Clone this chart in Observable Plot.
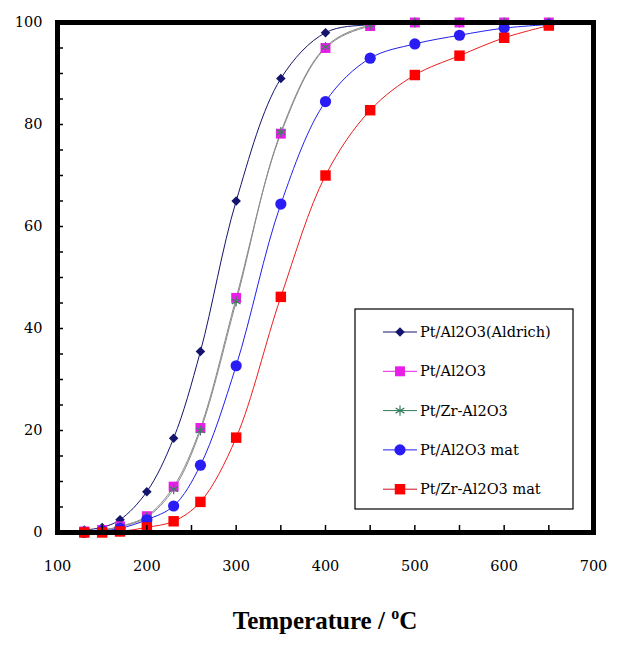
<!DOCTYPE html>
<html>
<head>
<meta charset="utf-8">
<script src="https://cdn.jsdelivr.net/npm/d3@7"></script>
<script src="https://cdn.jsdelivr.net/npm/@observablehq/plot@0.6"></script>
<style>
  html, body { margin: 0; padding: 0; background: #fff; }
  #chart { width: 621px; height: 659px; }
</style>
</head>
<body>
<div id="chart"></div>
<script>
// ---- data ----
const temperatures = [130, 150, 170, 200, 230, 260, 300, 350, 400, 450, 500, 550, 600, 650];
const seriesNames = ["Pt/Al2O3(Aldrich)", "Pt/Al2O3", "Pt/Zr-Al2O3", "Pt/Al2O3 mat", "Pt/Zr-Al2O3 mat"];
const ptAl2O3Aldrich = [0.5, 1, 2.5, 8, 18.5, 35.5, 65, 89, 98, 99.6, 100, 100, 100, 100];
const ptAl2O3 = [0.2, 0.5, 1.2, 3.2, 9, 20.5, 46, 78.2, 95, 99.3, 100, 100, 100, 100];
const ptZrAl2O3 = [0.2, 0.5, 1.1, 3, 8.5, 20, 45.3, 78.5, 95.2, 99.5, 100, 100, 100, 100];
const ptAl2O3Mat = [0, 0.3, 0.8, 2.5, 5.2, 13.2, 32.7, 64.4, 84.5, 93, 95.8, 97.5, 98.9, 99.6];
const ptZrAl2O3Mat = [0, 0, 0.2, 1, 2.2, 6, 18.6, 46.2, 70, 82.8, 89.7, 93.5, 97, 99.4];
const xTickValues = [100, 150, 200, 250, 300, 350, 400, 450, 500, 550, 600, 650, 700];
const yTickValues = [0, 5, 10, 15, 20, 25, 30, 35, 40, 45, 50, 55, 60, 65, 70, 75, 80, 85, 90, 95, 100];
const axisTitle = "Temperature / ";
const axisUnitSup = "o";
const axisUnit = "C";

// ---- styles ----
const FONT = "'DejaVu Serif', serif";
const TITLE_FONT = "'Liberation Serif', serif";
const styles = [
  {line: "#14146e", legendLine: "#14146e", marker: "diamond2", fill: "#14146e", stroke: "none", r: 4.3},
  {line: "#8a8a8a", legendLine: "#e81ee8", marker: "square", fill: "#e81ee8", stroke: "none", r: 5.6},
  {line: "#8a8a8a", legendLine: "#2e7d57", marker: "asterisk", fill: "none", stroke: "#3a8060", r: 4.8},
  {line: "#2020ee", legendLine: "#2020ee", marker: "circle", fill: "#2a1cf5", stroke: "none", r: 5.6},
  {line: "#ee1c1c", legendLine: "#cc1020", marker: "square", fill: "#ff0000", stroke: "none", r: 5.9}
];
const valueArrays = [ptAl2O3Aldrich, ptAl2O3, ptZrAl2O3, ptAl2O3Mat, ptZrAl2O3Mat];
const series = seriesNames.map((name, i) => temperatures.map((t, j) => ({name, t, v: valueArrays[i][j]})));

const W = 621, H = 659;
const marks = [];
series.forEach((data, i) => {
  marks.push(Plot.line(data, {x: "t", y: "v", stroke: styles[i].line, strokeWidth: 1, curve: "catmull-rom"}));
});
series.forEach((data, i) => {
  const s = styles[i];
  marks.push(Plot.dot(data, {x: "t", y: "v", symbol: s.marker, r: s.r, fill: s.fill, stroke: s.stroke, strokeWidth: 1.2}));
});

const plot = Plot.plot({
  width: W,
  height: H,
  marginLeft: 57,
  marginRight: 28,
  marginTop: 22,
  marginBottom: 127,
  style: {fontSize: "14.5px", fontFamily: FONT, fontVariant: "normal", color: "#000", background: "#fff"},
  x: {domain: [100, 700]},
  y: {domain: [0, 100]},
  marks: [
    ...marks,
    Plot.frame({stroke: "#000", strokeWidth: 5}),
    Plot.axisX({ticks: xTickValues, tickSize: -7, tickPadding: 35, strokeWidth: 1.5,
      tickFormat: d => d % 100 === 0 ? String(d) : "", label: null, fill: "#000"}),
    Plot.axisY({ticks: yTickValues, tickSize: -6, tickPadding: 21, strokeWidth: 1.5,
      tickFormat: d => d % 20 === 0 ? String(d) : "", label: null, fill: "#000"})
  ]
});
document.getElementById("chart").appendChild(plot);

const svg = d3.select(plot);
// serif family on every Plot text element
svg.selectAll("text").attr("font-family", FONT).style("font-family", FONT);

// ---- axis title with superscript ----
const title = svg.append("text")
  .attr("x", 325).attr("y", 629)
  .attr("text-anchor", "middle")
  .attr("font-weight", "bold")
  .attr("font-size", 25)
  .attr("fill", "#000")
  .attr("font-family", TITLE_FONT).style("font-family", TITLE_FONT);
title.append("tspan").text(axisTitle);
title.append("tspan").attr("font-size", 16).attr("dy", -10).text(axisUnitSup);
title.append("tspan").attr("dy", 10).text(axisUnit);

// ---- legend ----
const lg = svg.append("g").attr("font-size", 14.5).attr("text-anchor", "start");
lg.append("rect").attr("x", 355).attr("y", 309).attr("width", 218).attr("height", 200)
  .attr("fill", "#fff").attr("stroke", "#000").attr("stroke-width", 1.2);
const symbolMap = {diamond2: d3.symbolDiamond2, square: d3.symbolSquare, asterisk: d3.symbolAsterisk, circle: d3.symbolCircle};
seriesNames.forEach((name, i) => {
  const s = styles[i];
  const y = 332 + i * 39.3;
  lg.append("line").attr("x1", 383).attr("x2", 417).attr("y1", y).attr("y2", y)
    .attr("stroke", s.legendLine).attr("stroke-width", 1);
  lg.append("path")
    .attr("d", d3.symbol(symbolMap[s.marker], Math.PI * s.r * s.r)())
    .attr("transform", `translate(400,${y})`)
    .attr("fill", s.fill).attr("stroke", s.stroke).attr("stroke-width", 1.2);
  lg.append("text").attr("x", 420).attr("y", y).attr("dy", "0.35em")
    .attr("text-anchor", "start").attr("fill", "#000")
    .attr("font-family", FONT).style("font-family", FONT).text(name);
});
</script>
</body>
</html>
